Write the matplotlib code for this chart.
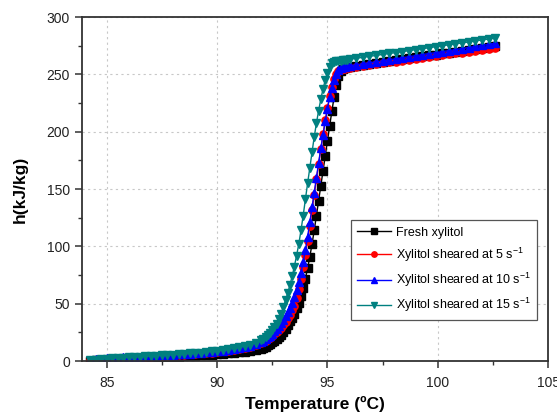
import matplotlib
matplotlib.use('Agg')
import numpy as np
from matplotlib import pyplot as plt
from matplotlib.ticker import MultipleLocator

plt.rcParams['font.family'] = ['Liberation Sans', 'DejaVu Sans']
plt.rcParams['mathtext.default'] = 'regular'

# rejilla de temperatura (ºC)
temp = [84.25, 84.5, 84.75, 85.0, 85.25, 85.5, 85.75, 86.0, 86.25, 86.5, 86.75, 87.0,
        87.25, 87.5, 87.75, 88.0, 88.25, 88.5, 88.75, 89.0, 89.25, 89.5, 89.75, 90.0,
        90.25, 90.5, 90.75, 91.0, 91.25, 91.5, 91.75, 92.0,
        92.1, 92.2, 92.3, 92.4, 92.5, 92.6, 92.7, 92.8, 92.9, 93.0,
        93.1, 93.2, 93.3, 93.4, 93.5, 93.6, 93.7, 93.8, 93.9, 94.0,
        94.1, 94.2, 94.3, 94.4, 94.5, 94.6, 94.7, 94.8, 94.9, 95.0,
        95.1, 95.2, 95.3, 95.4, 95.5, 95.6, 95.7, 95.8, 95.9, 96.0,
        96.3, 96.6, 96.9, 97.2, 97.5, 97.8, 98.1, 98.4, 98.7, 99.0, 99.3,
        99.6, 99.9, 100.2, 100.5, 100.8, 101.1, 101.4, 101.7, 102.0, 102.3, 102.6]

h_fresh = [0.3, 0.7, 1.0, 1.3, 1.6, 1.8, 2.0, 2.2, 2.4, 2.6, 2.8, 3.0,
           3.2, 3.4, 3.6, 3.8, 4.0, 4.3, 4.5, 4.8, 5.1, 5.4, 5.7, 6.0,
           6.4, 6.8, 7.3, 7.8, 8.4, 9.1, 9.9, 10.8,
           11.7, 12.7, 13.8, 15.0, 16.3, 17.7, 19.3, 21.1, 23.2, 25.6,
           28.4, 31.6, 35.2, 37.5, 41.5, 46, 51, 57, 64, 72,
           81, 91, 102, 114, 127, 140, 153, 166, 179, 192,
           205, 218, 230, 240.5, 248.5, 253, 255, 256, 256.4, 256.7,
           257.5, 258.3, 259.2, 260.0, 260.8, 261.6, 262.5, 263.3, 264.1, 265.0, 265.8,
           266.6, 267.4, 268.3, 269.1, 269.9, 270.8, 271.6, 272.4, 273.2, 274.1, 274.9]

h_5 = [0.6, 1.1, 1.5, 1.9, 2.2, 2.4, 2.6, 2.9, 3.1, 3.4, 3.6, 3.9,
       4.1, 4.4, 4.7, 5.0, 5.3, 5.6, 6.0, 6.3, 6.7, 7.1, 7.5, 8.0,
       8.5, 9.1, 9.8, 10.6, 11.5, 12.6, 13.9, 15.4,
       16.5, 17.7, 19, 20.4, 22, 23.6, 25.3, 27.2, 29.3, 31.6,
       34.2, 37.2, 40.6, 44.6, 48, 55, 63, 72, 82, 93,
       105, 118, 131.5, 145, 158.5, 172, 185, 198, 210, 221,
       231, 239.5, 246, 250.5, 253, 254.2, 254.8, 255.2, 255.5, 255.8,
       256.6, 257.4, 258.2, 258.9, 259.7, 260.5, 261.3, 262.1, 262.8, 263.6, 264.4,
       265.2, 266.0, 266.7, 267.5, 268.3, 269.1, 269.9, 270.6, 271.4, 272.2, 273.0]

h_10 = [1.0, 1.6, 2.1, 2.5, 2.8, 3.1, 3.3, 3.5, 3.8, 4.0, 4.3, 4.5,
        4.8, 5.1, 5.3, 5.6, 5.9, 6.2, 6.6, 6.9, 7.3, 7.7, 8.2, 8.7,
        9.2, 9.8, 10.5, 11.3, 12.3, 13.5, 14.9, 16.6,
        17.8, 19.2, 20.7, 22.3, 24, 25.9, 28, 30.3, 32.9, 35.8,
        39, 42.6, 46.6, 51, 56, 62, 69, 77, 86.5, 97,
        108.5, 121, 134, 147, 160, 173, 185.5, 197.5, 209, 220,
        230, 238.5, 245.5, 250.5, 253.8, 255.5, 256.3, 256.8, 257.2, 257.5,
        258.4, 259.3, 260.2, 261.0, 261.9, 262.8, 263.7, 264.6, 265.5, 266.4, 267.3,
        268.2, 269.0, 269.9, 270.8, 271.7, 272.6, 273.5, 274.4, 275.3, 276.2, 277.1]

h_15 = [0.8, 1.4, 1.9, 2.3, 2.6, 2.9, 3.1, 3.3, 3.6, 3.9, 4.1, 4.4,
        4.7, 5.0, 5.3, 5.6, 5.9, 6.3, 6.7, 7.1, 7.5, 8.0, 8.5, 9.0,
        9.6, 10.3, 11.1, 12.0, 13.1, 14.5, 16.2, 18.2,
        19.5, 21, 22.8, 24.8, 27, 29.5, 32.5, 36.5, 41.5, 47,
        53, 59.5, 66.5, 74, 82.5, 92, 102, 114, 127, 141,
        155, 168.5, 182, 195.5, 207.5, 218.5, 228.5, 237.5, 245, 251.5,
        256.5, 259.6, 261.0, 261.5, 261.8, 262.1, 262.4, 262.7, 263.0, 263.3,
        264.1, 264.9, 265.8, 266.6, 267.5, 268.3, 269.1, 270.0, 270.8, 271.7, 272.5,
        273.3, 274.2, 275.0, 275.9, 276.7, 277.5, 278.4, 279.2, 280.1, 280.9, 281.7]

series = [
    (h_fresh, 'Fresh xylitol', 'black', 's'),
    (h_5, 'Xylitol sheared at 5 s$^{-1}$', 'red', 'o'),
    (h_10, 'Xylitol sheared at 10 s$^{-1}$', 'blue', '^'),
    (h_15, 'Xylitol sheared at 15 s$^{-1}$', '#008080', 'v'),
]

fig = plt.figure(figsize=(5.57, 4.18), dpi=100)
ax = fig.add_axes([0.147, 0.136, 0.837, 0.823])

for h, lab, col, mk in series:
    ax.plot(temp, h, color=col, marker=mk, markersize=5.2, linewidth=1.0, label=lab)

ax.set_xlim(83.87, 105)
ax.set_ylim(0, 300)
ax.xaxis.set_major_locator(MultipleLocator(5))
ax.xaxis.set_minor_locator(MultipleLocator(2.5))
ax.yaxis.set_major_locator(MultipleLocator(50))
ax.yaxis.set_minor_locator(MultipleLocator(25))
ax.grid(True, which='major', linestyle=(0, (2, 3)), color='#c8c8c8', linewidth=0.8)
ax.set_axisbelow(True)

for s in ax.spines.values():
    s.set_color('#333333')
    s.set_linewidth(1.3)
ax.tick_params(which='major', direction='out', length=5, width=1.1, color='#333333',
               labelsize=10, labelcolor='#222222')
ax.tick_params(axis='x', which='major', pad=6)
ax.tick_params(which='minor', direction='out', length=3, width=1.0, color='#333333')

ax.set_xlabel('Temperature (ºC)', fontsize=12.5, fontweight='bold', labelpad=4)
ax.set_ylabel('h(kJ/kg)', fontsize=12.5, fontweight='bold', labelpad=14)

leg = ax.legend(loc='lower right', bbox_to_anchor=(0.976, 0.119), borderaxespad=0,
                fontsize=9, handlelength=2.7, fancybox=False, framealpha=1,
                edgecolor='#555555', borderpad=0.5, labelspacing=0.55, handletextpad=0.4,
                markerscale=0.75)
leg.get_frame().set_linewidth(0.9)

fig.savefig('out.png', dpi=100)
